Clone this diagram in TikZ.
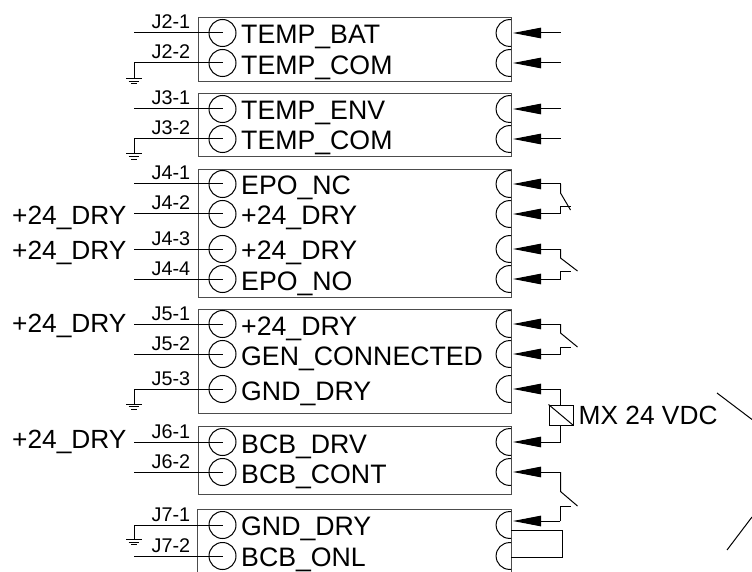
\documentclass[tikz,border=0pt]{standalone}
\usepackage{fontspec}
\setmainfont{Liberation Sans}
\usetikzlibrary{arrows.meta}
\tikzset{
  x=1pt,y=-1pt,
  wire/.style={line width=1pt,black},
  frame/.style={line width=1pt,black!70},
  fed/.style={wire,-{Triangle[length=28pt,width=10.5pt]},shorten >=0pt},
  pin/.style={circle,draw,line width=1pt,minimum size=27pt,inner sep=0pt},
  big/.style={font=\fontsize{26.3}{26}\selectfont,anchor=base west,inner sep=0pt,text=black},
  row/.style={font=\fontsize{26.7}{26}\selectfont,anchor=base west,inner sep=0pt,text=black},
  small/.style={font=\fontsize{19.8}{20}\selectfont,anchor=base west,inner sep=0pt,text=black},
  boxn/.style={draw,frame,anchor=north west,minimum width=313.5pt,inner sep=0pt}
}
% #1 id, #2 y, #3 J label, #4 text, #5 text baseline
\newcommand{\pinrow}[5]{%
  \coordinate (wl#1) at (134,#2);
  \node[pin] (c#1) at (222.5,#2) {};
  \draw[wire] (wl#1) -- (c#1.center);
  \node[small] (j#1) at (151.5,#2-4) {#3};
  \node[row] (t#1) at (241,#5) {#4};
  \draw[wire] (511,#2-13.4) -- (509.5,#2-13.4) arc[start angle=90,end angle=270,radius=13.4pt] -- (511,#2+13.4);
}
\newcommand{\gnd}[2]{%
  \coordinate (g#1) at (134,#2);
  \draw[wire] (wl#1) -- (g#1);
  \draw[wire] ([xshift=-8pt]g#1) -- ([xshift=8pt]g#1);
  \draw[wire] ([xshift=-5.3pt,yshift=-2.6pt]g#1) -- ([xshift=5.3pt,yshift=-2.6pt]g#1);
  \draw[wire] ([xshift=-2.8pt,yshift=-5.2pt]g#1) -- ([xshift=2.8pt,yshift=-5.2pt]g#1);
}
\begin{document}
\begin{tikzpicture}
\useasboundingbox (0,0) rectangle (752,572);
% boxes
\node[boxn,minimum height=63.5pt] (b1) at (197.5,17.5) {};
\node[boxn,minimum height=63.5pt] (b2) at (197.5,93) {};
\node[boxn,minimum height=127.5pt] (b3) at (197.5,169) {};
\node[boxn,minimum height=103.5pt] (b4) at (197.5,309) {};
\node[boxn,minimum height=68pt] (b5) at (197.5,426) {};
\coordinate (b6a) at (197.5,572);
\coordinate (b6b) at (197.5,509.5);
\coordinate (b6c) at (511,509.5);
\coordinate (b6d) at (511,572);
\draw[frame] (b6a) -- (b6b) -- (b6c) -- (b6d);
% rows
\pinrow{21}{33}{J2-1}{TEMP\_BAT}{44}
\pinrow{22}{63}{J2-2}{TEMP\_COM}{75}
\pinrow{31}{109}{J3-1}{TEMP\_ENV}{120}
\pinrow{32}{139}{J3-2}{TEMP\_COM}{150}
\pinrow{41}{184}{J4-1}{EPO\_NC}{195}
\pinrow{42}{214}{J4-2}{+24\_DRY}{225}
\pinrow{43}{249}{J4-3}{+24\_DRY}{259}
\pinrow{44}{279}{J4-4}{EPO\_NO}{290}
\pinrow{51}{324}{J5-1}{+24\_DRY}{335}
\pinrow{52}{354}{J5-2}{GEN\_CONNECTED}{365}
\pinrow{53}{389}{J5-3}{GND\_DRY}{400}
\pinrow{61}{442}{J6-1}{BCB\_DRV}{453}
\pinrow{62}{472}{J6-2}{BCB\_CONT}{483}
\pinrow{71}{525}{J7-1}{GND\_DRY}{535}
\pinrow{72}{556}{J7-2}{BCB\_ONL}{566}
% grounds
\gnd{22}{78.5}
\gnd{32}{154}
\gnd{53}{404}
\gnd{71}{539.5}
% supply labels
\node[big] (s42) at (12,225) {+24\_DRY};
\node[big] (s43) at (12,259) {+24\_DRY};
\node[big] (s51) at (12,332) {+24\_DRY};
\node[big] (s61) at (12,448) {+24\_DRY};
% inputs
\foreach \n/\yy in {21/33,22/63,31/109,32/139,41/184,42/214,43/249,44/279,51/324,52/354,53/389,61/442,62/472}{
  \coordinate (tip\n) at (513,\yy);
  \coordinate (in\n) at (560.5,\yy);
  \draw[fed] (in\n) -- (tip\n);
}
\coordinate (tip71) at (513,521);
\coordinate (in71) at (560,521);
\draw[fed] (in71) -- (tip71);
% J4 first contact
\coordinate (k1a) at (560.5,193);
\coordinate (k1b) at (570.5,210);
\coordinate (k1c) at (560.5,207);
\coordinate (k1d) at (570.5,207);
\draw[wire] (in41) -- (k1a) -- (k1b);
\draw[wire] (in42) -- (k1c) -- (k1d);
% J4 second contact
\coordinate (k2a) at (560.5,258);
\coordinate (k2b) at (577.5,271);
\coordinate (k2c) at (560.5,271.5);
\coordinate (k2d) at (570.5,271.5);
\draw[wire] (in43) -- (k2a) -- (k2b);
\draw[wire] (in44) -- (k2c) -- (k2d);
% J5 contact
\coordinate (k3a) at (560.5,333);
\coordinate (k3b) at (577.5,347);
\coordinate (k3c) at (560.5,347);
\coordinate (k3d) at (570.5,347);
\draw[wire] (in51) -- (k3a) -- (k3b);
\draw[wire] (in52) -- (k3c) -- (k3d);
% relay
\node[draw,wire,minimum width=24pt,minimum height=20pt,inner sep=0pt] (mx) at (561,415) {};
\draw[wire] (mx.north west) -- (mx.south east);
\draw[wire] (in53) -- (mx.north -| in53);
\draw[wire] (mx.south -| in61) -- (in61);
\node[big] (mxt) at (578.5,424) {MX 24 VDC};
% J6/J7 contact
\coordinate (k4a) at (560.5,491.5);
\coordinate (k4b) at (577.5,506);
\coordinate (k4c) at (560,506);
\coordinate (k4d) at (570.5,506);
\draw[wire] (in62) -- (k4a) -- (k4b);
\draw[wire] (in71) -- (k4c) -- (k4d);
% J7 link
\coordinate (l1) at (511,530);
\coordinate (l2) at (562,530);
\coordinate (l3) at (562,557);
\coordinate (l4) at (511,557);
\draw[wire] (l1) -- (l2) -- (l3) -- (l4);
% far right strokes
\coordinate (r1) at (717,393);
\coordinate (r2) at (752,419.5);
\coordinate (r3) at (727,550);
\coordinate (r4) at (752,517);
\draw[wire] (r1) -- (r2);
\draw[wire] (r3) -- (r4);
\end{tikzpicture}
\end{document}
